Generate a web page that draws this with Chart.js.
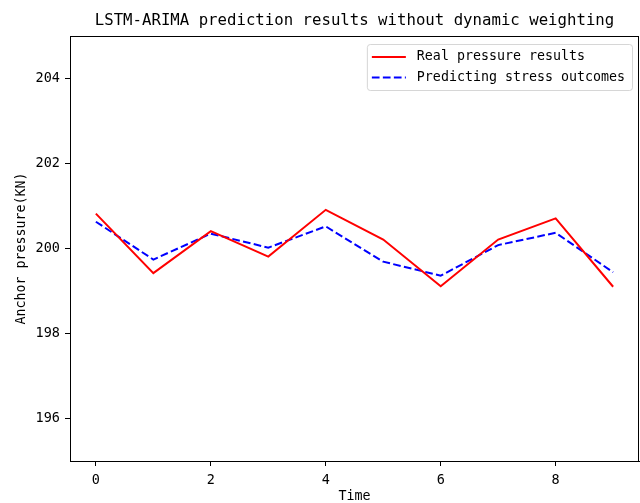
<!DOCTYPE html>
<html>
<head>
<meta charset="utf-8">
<script src="https://cdn.jsdelivr.net/npm/chart.js@4.4.1/dist/chart.umd.min.js"></script>
<style>
  html, body { margin: 0; padding: 0; background: #ffffff; }
  canvas { display: block; }
</style>
</head>
<body>
<canvas id="lstmChart" width="640" height="503"></canvas>
<script>
// Values
const timeSteps = [0, 1, 2, 3, 4, 5, 6, 7, 8, 9];
const realPressure = [200.82, 199.42, 200.41, 199.81, 200.91, 200.21, 199.11, 200.21, 200.71, 199.10];
const predictedPressure = [200.63, 199.74, 200.35, 200.02, 200.52, 199.69, 199.36, 200.08, 200.37, 199.44];
const seriesLabels = ['Real pressure results', 'Predicting stress outcomes'];
const xTickValues = [0, 2, 4, 6, 8];
const yTickValues = [196, 198, 200, 202, 204];
const chartTitle = 'LSTM-ARIMA prediction results without dynamic weighting';

const monoFont = '"DejaVu Sans Mono", "Liberation Mono", monospace';

// Title, frame and legend drawn like matplotlib
const matplotlibLook = {
  id: 'matplotlibLook',
  afterDatasetsDraw(chart) {
    const ctx = chart.ctx;
    const area = chart.chartArea;
    ctx.save();

    // full frame round the plot
    ctx.strokeStyle = '#000000';
    ctx.lineWidth = 1;
    ctx.strokeRect(area.left + 0.5, area.top + 0.5, area.right - area.left - 1, area.bottom - area.top);

    // title
    ctx.fillStyle = '#000000';
    ctx.font = '15.7px ' + monoFont;
    ctx.textAlign = 'center';
    ctx.textBaseline = 'middle';
    ctx.fillText(chartTitle, (area.left + area.right) / 2, 21);

    // legend in the upper right
    ctx.font = '13.3px ' + monoFont;
    const datasets = chart.data.datasets;
    let maxText = 0;
    datasets.forEach(ds => { maxText = Math.max(maxText, ctx.measureText(ds.label).width); });
    const boxW = 5 + 34 + 11 + maxText + 7;
    const boxH = 46;
    const boxX = area.right - 7 - boxW;
    const boxY = area.top + 8;

    ctx.globalAlpha = 0.8;
    ctx.fillStyle = '#ffffff';
    ctx.strokeStyle = '#cccccc';
    ctx.beginPath();
    ctx.roundRect(boxX + 0.5, boxY + 0.5, boxW, boxH, 3);
    ctx.fill();
    ctx.stroke();
    ctx.globalAlpha = 1;

    datasets.forEach((ds, i) => {
      const rowY = boxY + 13 + i * 20.5;
      ctx.strokeStyle = ds.borderColor;
      ctx.lineWidth = ds.borderWidth;
      ctx.setLineDash(ds.borderDash || []);
      ctx.beginPath();
      ctx.moveTo(boxX + 5, rowY);
      ctx.lineTo(boxX + 39, rowY);
      ctx.stroke();
      ctx.setLineDash([]);
      ctx.fillStyle = '#000000';
      ctx.textAlign = 'left';
      ctx.textBaseline = 'middle';
      ctx.fillText(ds.label, boxX + 50, rowY);
    });

    ctx.restore();
  }
};

const ctx = document.getElementById('lstmChart').getContext('2d');
const lstmChart = new Chart(ctx, {
  type: 'line',
  data: {
    datasets: [
      {
        label: seriesLabels[0],
        data: timeSteps.map((t, i) => ({ x: t, y: realPressure[i] })),
        borderColor: '#ff0000',
        borderWidth: 2,
        pointRadius: 0,
        tension: 0,
        fill: false
      },
      {
        label: seriesLabels[1],
        data: timeSteps.map((t, i) => ({ x: t, y: predictedPressure[i] })),
        borderColor: '#0000ff',
        borderWidth: 2,
        borderDash: [7.7, 3.3],
        pointRadius: 0,
        tension: 0,
        fill: false
      }
    ]
  },
  options: {
    responsive: false,
    animation: false,
    devicePixelRatio: 1,
    layout: {
      padding: { top: 36, right: 1, left: 0, bottom: 0 }
    },
    scales: {
      x: {
        type: 'linear',
        min: -0.45,
        max: 9.45,
        afterBuildTicks: scale => { scale.ticks = xTickValues.map(v => ({ value: v })); },
        afterFit: scale => { scale.height = 42; },
        ticks: {
          color: '#000000',
          font: { family: monoFont, size: 13.5 },
          padding: 6,
          maxRotation: 0
        },
        grid: {
          drawOnChartArea: false,
          drawTicks: true,
          tickLength: 5,
          tickColor: '#000000'
        },
        border: { display: true, color: '#000000', width: 1 },
        title: {
          display: true,
          text: 'Time',
          color: '#000000',
          font: { family: monoFont, size: 13.3, lineHeight: 0.9 },
          padding: { top: 0, bottom: 0 }
        }
      },
      y: {
        min: 195,
        max: 205,
        afterBuildTicks: scale => { scale.ticks = yTickValues.map(v => ({ value: v })); },
        afterFit: scale => { scale.width = 70; },
        ticks: {
          color: '#000000',
          font: { family: monoFont, size: 13.5 },
          padding: 5
        },
        grid: {
          drawOnChartArea: false,
          drawTicks: true,
          tickLength: 5,
          tickColor: '#000000'
        },
        border: { display: true, color: '#000000', width: 1 },
        title: {
          display: true,
          text: 'Anchor pressure(KN)',
          color: '#000000',
          font: { family: monoFont, size: 13.3 },
          padding: { top: 14, bottom: 0 }
        }
      }
    },
    plugins: {
      legend: { display: false },
      title: { display: false },
      tooltip: { enabled: false }
    }
  },
  plugins: [matplotlibLook]
});
</script>
</body>
</html>
